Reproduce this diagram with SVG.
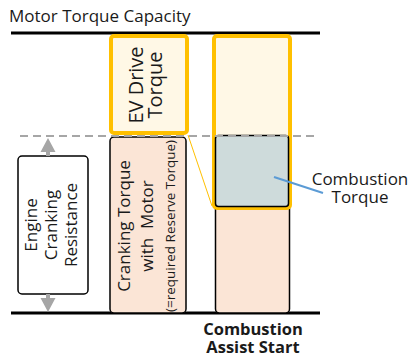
<svg xmlns="http://www.w3.org/2000/svg" width="411" height="358" viewBox="0 0 411 358">
<style>
text{font-family:"Open Sans","Noto Sans","Liberation Sans",sans-serif;fill:#1a1a1a}
.axis{stroke:#000;stroke-width:3}
.orange{fill:#FFF8E6;stroke:#FFC000;stroke-width:4}
.pink{fill:#FBE5D6;stroke:#000;stroke-width:1.5}
.grey{fill:#CEDBDB;stroke:#000;stroke-width:1.5}
.arr{fill:#A6A6A6}
</style>
<rect width="411" height="358" fill="#fff"/>
<text x="9" y="22" font-size="17">Motor Torque Capacity</text>
<g id="axes">
<line class="axis" x1="11" y1="33" x2="320" y2="33"/>
<line class="axis" x1="11" y1="313" x2="320" y2="313"/>
</g>
<g id="engine-cranking-resistance">
<rect x="18" y="156" width="70" height="138" rx="4" fill="#fff" stroke="#000" stroke-width="1.5"/>
<g transform="translate(0,225) rotate(-90)" font-size="17" text-anchor="middle">
<text x="0" y="37">Engine</text>
<text x="0" y="57">Cranking</text>
<text x="0" y="77">Resistance</text>
</g>
</g>
<g id="cranking-torque">
<rect class="pink" x="110" y="137" width="76" height="176" rx="4"/>
<g transform="translate(0,226) rotate(-90)" text-anchor="middle">
<text x="0" y="130" font-size="17">Cranking Torque</text>
<text x="0" y="153" font-size="17" xml:space="preserve">with  Motor</text>
<text x="0" y="175" font-size="13.5">(=required Reserve Torque)</text>
</g>
</g>
<g id="ev-drive-torque">
<rect class="orange" x="111" y="36" width="76" height="97" rx="3"/>
<g transform="translate(0,85) rotate(-90)" font-size="20" text-anchor="middle">
<text x="0" y="143">EV Drive</text>
<text x="0" y="162">Torque</text>
</g>
</g>
<g id="assist-lower">
<rect class="pink" x="215.5" y="200" width="74" height="113" rx="4"/>
</g>
<g id="assist-upper">
<rect class="orange" x="214" y="36" width="76" height="172" rx="3"/>
</g>
<g id="combustion-torque">
<rect class="grey" x="215.5" y="135.5" width="73" height="71" rx="3"/>
</g>
<g id="connectors">
<line x1="188" y1="135" x2="212" y2="206" stroke="#FFC000" stroke-width="1"/>
<line x1="274" y1="177" x2="323" y2="193" stroke="#5B9BD5" stroke-width="2.2"/>
<path class="arr" d="M48,138 L55.5,152 L50,152 L50,156 L46,156 L46,152 L40.5,152 Z"/>
<path class="arr" d="M48,312 L55.5,298 L50,298 L50,294 L46,294 L46,298 L40.5,298 Z"/>
<line x1="20" y1="136" x2="317" y2="136" stroke="#A6A6A6" stroke-width="2" stroke-dasharray="8 5"/>
</g>
<g id="labels">
<text x="360" y="185" font-size="17" text-anchor="middle">Combustion</text>
<text x="360" y="203" font-size="17" text-anchor="middle">Torque</text>
<text x="253" y="335" font-size="16.5" font-weight="bold" text-anchor="middle">Combustion</text>
<text x="253" y="353" font-size="16.5" font-weight="bold" text-anchor="middle">Assist Start</text>
</g>
</svg>
